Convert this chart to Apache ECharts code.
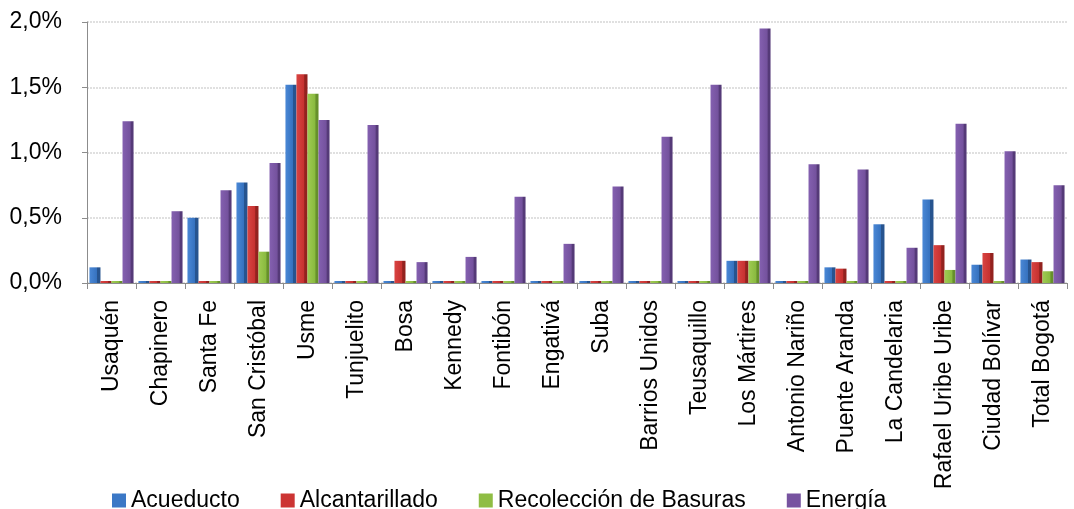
<!DOCTYPE html>
<html>
<head>
<meta charset="utf-8">
<script src="https://cdn.jsdelivr.net/npm/echarts@6/dist/echarts.min.js"></script>
<style>
html,body{margin:0;padding:0;background:#fff;}
#chart{width:1074px;height:509px;}
</style>
</head>
<body>
<div id="chart"></div>
<script>
var categories = ["Usaquén","Chapinero","Santa Fe","San Cristóbal","Usme","Tunjuelito","Bosa","Kennedy","Fontibón","Engativá","Suba","Barrios Unidos","Teusaquillo","Los Mártires","Antonio Nariño","Puente Aranda","La Candelaria","Rafael Uribe Uribe","Ciudad Bolívar","Total Bogotá"];
var acueducto      = [0.12, 0, 0.50, 0.77, 1.52, 0, 0, 0, 0, 0, 0, 0, 0, 0.17, 0, 0.12, 0.45, 0.64, 0.14, 0.18];
var alcantarillado = [0, 0, 0, 0.59, 1.60, 0, 0.17, 0, 0, 0, 0, 0, 0, 0.17, 0, 0.11, 0, 0.29, 0.23, 0.16];
var recoleccion    = [0, 0, 0, 0.24, 1.45, 0, 0, 0, 0, 0, 0, 0, 0, 0.17, 0, 0, 0, 0.10, 0, 0.09];
var energia        = [1.24, 0.55, 0.71, 0.92, 1.25, 1.21, 0.16, 0.20, 0.66, 0.30, 0.74, 1.12, 1.52, 1.95, 0.91, 0.87, 0.27, 1.22, 1.01, 0.75];
var yTicks = [0, 0.5, 1.0, 1.5, 2.0];

function grad(light, mid, dark) {
  return new echarts.graphic.LinearGradient(0, 0, 1, 0, [
    {offset: 0, color: light},
    {offset: 0.72, color: mid},
    {offset: 0.73, color: dark},
    {offset: 1, color: dark}
  ]);
}
var names = ["Acueducto","Alcantarillado","Recolección de Basuras","Energía"];
var datas = [acueducto, alcantarillado, recoleccion, energia];
var fills = [
  grad('#4a88d6', '#3470bd', '#27548f'),
  grad('#d94442', '#c5302f', '#93221f'),
  grad('#9fcb52', '#88b93e', '#66902b'),
  grad('#8460b0', '#73519c', '#553a78')
];
var legendColors = ['#3b78c6', '#cc3433', '#8fbd44', '#7753a0'];

var series = names.map(function(n, i) {
  return {
    name: n,
    type: 'bar',
    data: datas[i],
    barGap: '0%',
    barCategoryGap: '10%',
    barMinHeight: 2,
    itemStyle: {color: fills[i]},
    emphasis: {disabled: true}
  };
});

var chart = echarts.init(document.getElementById('chart'));
chart.setOption({
  animation: false,
  color: legendColors,
  grid: {left: 87, right: 7, top: 22, bottom: 226, containLabel: false},
  legend: {
    data: names.map(function(n, i){ return {name: n, itemStyle: {color: legendColors[i]}}; }),
    left: 107,
    top: 484,
    icon: 'rect',
    itemWidth: 14,
    itemHeight: 14,
    itemGap: 41,
    textStyle: {fontFamily: 'Liberation Sans', fontSize: 23, color: '#000'}
  },
  xAxis: {
    type: 'category',
    data: categories,
    axisLine: {lineStyle: {color: '#8c8c8c', width: 1}},
    axisTick: {show: true, length: 6, lineStyle: {color: '#8c8c8c'}},
    axisLabel: {
      interval: 0,
      rotate: 90,
      margin: 17,
      fontFamily: 'Liberation Sans',
      fontSize: 23,
      color: '#000'
    }
  },
  yAxis: {
    type: 'value',
    min: 0,
    max: 2.0,
    interval: 0.5,
    axisLine: {show: true, lineStyle: {color: '#8c8c8c', width: 1}},
    axisTick: {show: true, length: 5, inside: false, lineStyle: {color: '#8c8c8c'}},
    splitLine: {show: true, lineStyle: {color: '#d6d6d6', width: 1.5, type: [2, 1]}},
    axisLabel: {
      margin: 25,
      fontFamily: 'Liberation Sans',
      fontSize: 23,
      color: '#000',
      formatter: function(v) {
        return v.toFixed(1).replace('.', ',') + '%';
      }
    }
  },
  series: series
});
</script>
</body>
</html>
